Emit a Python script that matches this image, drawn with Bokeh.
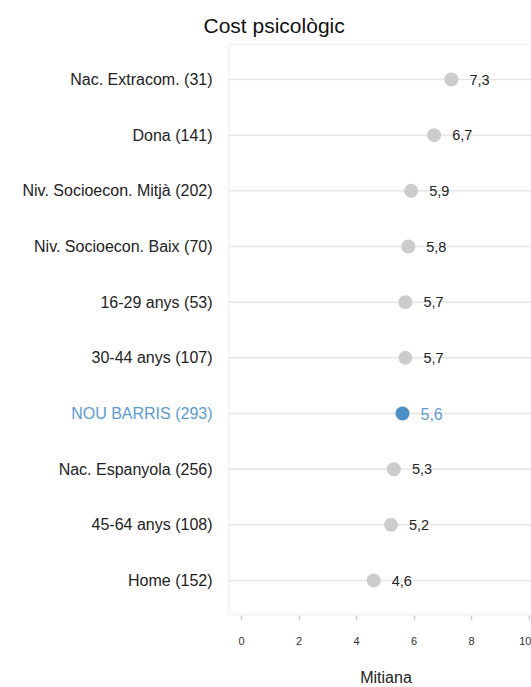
from bokeh.plotting import figure
from bokeh.models import Range1d, ColumnDataSource, FixedTicker, BoxAnnotation
from bokeh.embed import file_html
from bokeh.resources import INLINE
from bokeh.core.properties import value

# ---- data ----
categories = ["Nac. Extracom. (31)", "Dona (141)", "Niv. Socioecon. Mitjà (202)",
              "Niv. Socioecon. Baix (70)", "16-29 anys (53)", "30-44 anys (107)",
              "NOU BARRIS (293)", "Nac. Espanyola (256)", "45-64 anys (108)", "Home (152)"]
values = [7.3, 6.7, 5.9, 5.8, 5.7, 5.7, 5.6, 5.3, 5.2, 4.6]
value_labels = ["7,3", "6,7", "5,9", "5,8", "5,7", "5,7", "5,6", "5,3", "5,2", "4,6"]
highlight = "NOU BARRIS (293)"
x_ticks = [0, 2, 4, 6, 8, 10]
title_text = "Cost psicològic"
x_label = "Mitiana"

FONT = value("Liberation Sans")
GRAY_DOT = "#cccccc"
BLUE_DOT = "#4a8fc6"
BLUE_TXT = "#5b9bd0"
LINE = "#dedede"
GRID = "#e6e6e6"

W, H = 531, 687
n = len(categories)
rows = [n - 1 - i for i in range(n)]   # first category at top

# layout geometry (pixels -> axis units)
PX_X, X0_PX = 28.75, 241.0      # px per x unit, pixel of x = 0
PX_Y, ROW0_PX = 55.67, 79.0     # px per row, pixel of first row


def xd(px):
    return (px - X0_PX) / PX_X


def yd(py):
    return (n - 1) - (py - ROW0_PX) / PX_Y


norm_idx = [i for i, c in enumerate(categories) if c != highlight]
hi_idx = [i for i, c in enumerate(categories) if c == highlight]


def make_src(idx):
    return ColumnDataSource(dict(
        x=[values[i] for i in idx],
        y=[rows[i] for i in idx],
        label=[value_labels[i] for i in idx],
        cat=[categories[i] for i in idx],
    ))


src_norm = make_src(norm_idx)
src_hi = make_src(hi_idx)

panel_left = xd(228)
box_top, box_bottom = yd(44), yd(614)

p = figure(width=W, height=H,
           x_range=Range1d(xd(0), xd(W)),
           y_range=Range1d(yd(H), yd(0)),
           y_axis_location=None,
           output_backend="svg", toolbar_location=None,
           min_border_left=0, min_border_right=0,
           min_border_top=0, min_border_bottom=0)
p.outline_line_color = None
p.background_fill_color = "white"
p.border_fill_color = "white"
p.xgrid.visible = False
p.ygrid.visible = False

# x axis drawn at the bottom edge of the panel
xax = p.xaxis[0]
xax.fixed_location = yd(615)
xax.ticker = FixedTicker(ticks=x_ticks)
xax.major_label_text_font_size = "11px"
xax.major_label_text_font = "Liberation Sans"
xax.major_label_text_color = "#333333"
xax.major_label_standoff = 16
xax.major_tick_in = 0
xax.major_tick_out = 5
xax.major_tick_line_color = "#cccccc"
xax.major_tick_line_width = 1.5
xax.minor_tick_line_color = None
xax.axis_line_color = None

# panel border (left, top, bottom)
p.add_layout(BoxAnnotation(left=panel_left, right=xd(W) + 5, bottom=box_bottom, top=box_top,
                           fill_alpha=0, line_color=LINE, line_width=2, level="underlay"))

# horizontal grid lines per category
for src in (src_norm, src_hi):
    p.segment(x0=panel_left, x1=xd(W) + 1, y0="y", y1="y", source=src,
              line_color=GRID, line_width=1.5, level="underlay")

# dots
p.scatter("x", "y", source=src_norm, size=14, fill_color=GRAY_DOT, line_color=None)
p.scatter("x", "y", source=src_hi, size=14, fill_color=BLUE_DOT, line_color=None)

# value labels
p.text(x="x", y="y", text="label", source=src_norm, x_offset=18,
       text_baseline="middle", text_align="left",
       text_font=FONT, text_font_size="14.5px", text_color="#222222")
p.text(x="x", y="y", text="label", source=src_hi, x_offset=18,
       text_baseline="middle", text_align="left",
       text_font=FONT, text_font_size="16px", text_color=BLUE_TXT)

# category labels
p.text(x=panel_left, y="y", text="cat", source=src_norm, x_offset=-16,
       text_baseline="middle", text_align="right",
       text_font=FONT, text_font_size="16px", text_color="#222222")
p.text(x=panel_left, y="y", text="cat", source=src_hi, x_offset=-16,
       text_baseline="middle", text_align="right",
       text_font=FONT, text_font_size="16px", text_color=BLUE_TXT)

# chart title and axis title
p.text(x=[xd(203)], y=[yd(25)], text=[title_text], text_align="left",
       text_baseline="alphabetic", text_font=FONT, text_font_size="21px",
       text_color="#111111")
p.text(x=[xd(385.5)], y=[yd(676.5)], text=[x_label], text_align="center",
       text_baseline="middle", text_font=FONT, text_font_size="16px",
       text_color="#222222")

open("out.html", "w").write(file_html(p, INLINE))
